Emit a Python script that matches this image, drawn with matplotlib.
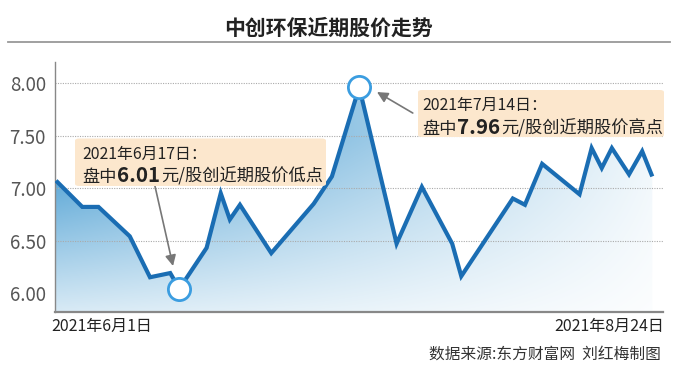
import numpy as np
import matplotlib
matplotlib.use("Agg")
import matplotlib.pyplot as plt
from matplotlib.patches import FancyBboxPatch
from matplotlib.lines import Line2D

plt.rcParams['font.family'] = ['Noto Sans CJK SC', 'DejaVu Sans']

# ---- data (trading-day position, price in yuan) ----
days = [0, 2.6, 4.2, 7.3, 9.3, 11.3, 12.2, 14.9, 16.3, 17.2, 18.2, 21.3, 25.5, 27.3,
        30.0, 33.7, 36.2, 39.2, 40.1, 45.2, 46.4, 48.1, 51.8, 53.0, 54.0, 55.0,
        56.7, 58.0, 59.0]
prices = [7.07, 6.82, 6.82, 6.54, 6.15, 6.19, 6.04, 6.43, 6.95, 6.70, 6.84, 6.38,
          6.85, 7.11, 7.96, 6.47, 7.01, 6.47, 6.16, 6.90, 6.84, 7.23, 6.94, 7.38,
          7.19, 7.38, 7.13, 7.35, 7.11]
low_idx = 6
high_idx = 14
yticks = [6.00, 6.50, 7.00, 7.50, 8.00]
title = "中创环保近期股价走势"
start_label = "2021年6月1日"
end_label = "2021年8月24日"
source = "数据来源:东方财富网  刘红梅制图"
low_line1 = "2021年6月17日："
low_parts = ["盘中", "6.01", "元/股创近期股价低点"]
high_line1 = "2021年7月14日："
high_parts = ["盘中", "7.96", "元/股创近期股价高点"]

W, H = 683, 378
fig = plt.figure(figsize=(W / 100, H / 100), dpi=100)
fig.patch.set_facecolor('white')

def fx(px):
    return px / W

def fy(py):
    return 1 - py / H

ax = fig.add_axes([fx(55), fy(311.7), fx(663) - fx(55), fy(62) - fy(311.7)])
ymin, ymax = 5.822, 8.20
xmin, xmax = -0.1, 60.06

line_color = '#1a6db3'
circle_color = '#3b9de0'

# gradient fill under the line
poly = ax.fill_between(days, prices, ymin, facecolor='none', edgecolor='none')
nx, ny = 300, 200
gx = np.linspace(0, 1, nx)
gy = np.linspace(ymin, ymax, ny)
GX, GY = np.meshgrid(gx, gy)
hx = 1 - 0.92 * GX
vy = np.clip(0.2 + 0.49 * (GY - ymin), 0, 1)
a = hx * vy
C = np.array([61, 151, 207]) / 255.0
img = np.ones((ny, nx, 3)) * (1 - a[..., None]) + C[None, None, :] * a[..., None]
im = ax.imshow(img, origin='lower', extent=[days[0], days[-1], ymin, ymax],
               aspect='auto', interpolation='bilinear', zorder=1)
im.set_clip_path(poly.get_paths()[0], ax.transData)

# line
ax.plot(days, prices, color=line_color, lw=3.0, solid_joinstyle='miter',
        solid_capstyle='butt', zorder=3)
# circles
for i in (low_idx, high_idx):
    ax.plot(days[i], prices[i], 'o', ms=16, mfc='white', mec=circle_color,
            mew=2.0, zorder=4)

ax.set_xlim(xmin, xmax)
ax.set_ylim(ymin, ymax)
ax.set_yticks(yticks)
ax.set_yticklabels([f"{v:.2f}" for v in yticks])
ax.set_xticks([])
ax.tick_params(axis='y', length=0, pad=6.5, labelsize=13.5, labelcolor='#555555')
ax.grid(axis='y', color='#aaaaaa', linestyle=(0, (1, 1.2)), lw=0.8, zorder=1.5)
ax.get_ygridlines()[0].set_visible(False)
for s in ('top', 'right'):
    ax.spines[s].set_visible(False)
ax.spines['left'].set_color('#888888')
ax.spines['left'].set_linewidth(1.0)
ax.spines['bottom'].set_color('#888888')
ax.spines['bottom'].set_linewidth(1.6)

# arrows
ax.annotate('', xy=(11.58, 6.257), xytext=(9.7, 7.057),
            arrowprops=dict(arrowstyle='-|>', color='#777777', lw=1.2,
                            mutation_scale=16, shrinkA=0, shrinkB=0), zorder=5)
ax.annotate('', xy=(31.76, 7.914), xytext=(35.3, 7.714),
            arrowprops=dict(arrowstyle='-|>', color='#777777', lw=1.2,
                            mutation_scale=16, shrinkA=0, shrinkB=0), zorder=5)

# boxes
def box(x0, y0, x1, y1):
    p = FancyBboxPatch((fx(x0), fy(y1)), fx(x1) - fx(x0), fy(y0) - fy(y1),
                       boxstyle="round,pad=0,rounding_size=0.006",
                       transform=fig.transFigure, facecolor='#fce7cd',
                       edgecolor='none', zorder=6)
    fig.patches.append(p)

box(75, 138.5, 326, 186)
box(418, 90, 664, 137)

def two_lines(x, y1, y2, l1, parts):
    fig.text(fx(x), fy(y1), l1, fontsize=11.4, color='#222222', ha='left',
             va='center', zorder=7)
    t = fig.text(fx(x), fy(y2), parts[0], fontsize=12.4, color='#222222',
                 ha='left', va='baseline', zorder=7)
    t2 = fig.text(0, 0, parts[1], fontsize=14.8, fontweight='bold', color='#222222',
                  ha='left', va='baseline', zorder=7)
    t3 = fig.text(0, 0, parts[2], fontsize=12.4, color='#222222',
                  ha='left', va='baseline', zorder=7)
    fig.canvas.draw()
    r = fig.canvas.get_renderer()
    bb = t.get_window_extent(r)
    t2.set_position((bb.x1 / fig.bbox.width + 1 / W, t.get_position()[1]))
    bb2 = t2.get_window_extent(r)
    t3.set_position((bb2.x1 / fig.bbox.width + 1 / W, t.get_position()[1]))

two_lines(82, 154.5, 181.5, low_line1, low_parts)
two_lines(422, 105, 134, high_line1, high_parts)

# title and rule
fig.text(fx(328), fy(28), title, fontsize=15, fontweight='bold', color='#222222',
         ha='center', va='center')
fig.add_artist(Line2D([fx(8), fx(670)], [fy(41.7), fy(41.7)], color='#999999',
                      lw=1.3, transform=fig.transFigure))

fig.text(fx(51.5), fy(326), start_label, fontsize=11.5, color='#222222',
         ha='left', va='center')
fig.text(fx(664), fy(326.5), end_label, fontsize=11.5, color='#222222',
         ha='right', va='center')
fig.text(fx(661), fy(354), source, fontsize=11.3, color='#333333',
         ha='right', va='center')

fig.savefig('out.png', dpi=100, facecolor='white')
